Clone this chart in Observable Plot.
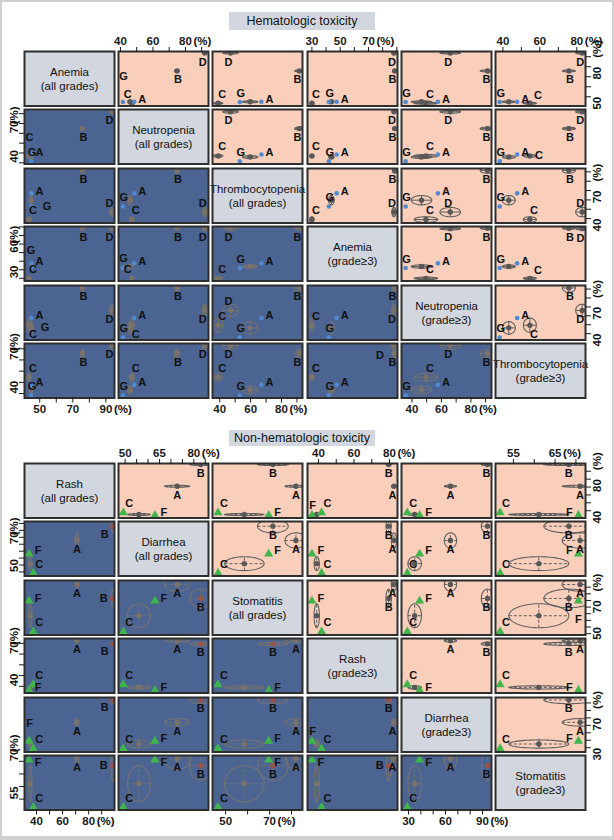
<!DOCTYPE html>
<html>
<head>
<meta charset="utf-8">
<script src="https://cdn.jsdelivr.net/npm/d3@7"></script>
<script src="https://cdn.jsdelivr.net/npm/@observablehq/plot@0.6"></script>
<style>
html,body{margin:0;padding:0;background:#fff;}
#root{position:relative;width:614px;height:840px;overflow:hidden;background:#fff;font-family:"Liberation Sans",Arial,Helvetica,sans-serif;}
.panel{position:absolute;line-height:0;}
.hdr{position:absolute;left:229px;width:146px;background:#d2d7df;color:#111;font-size:12.5px;text-align:center;white-space:nowrap;overflow:visible;}
.edge{position:absolute;left:0;top:0;width:614px;height:840px;box-sizing:border-box;border:2px solid #d0d0d0;border-bottom-width:4px;pointer-events:none;}
</style>
</head>
<body>
<div id="root">
  <div class="hdr" style="top:12px;height:18px;line-height:18px;">Hematologic toxicity</div>
  <div class="hdr" style="top:430px;height:16px;line-height:16px;">Non-hematologic toxicity</div>
</div>
<script>
// ================= DATA: hematologic toxicity (top matrix) =================
const hemaVariables = [["Anemia","(all grades)"],["Neutropenia","(all grades)"],["Thrombocytopenia","(all grades)"],
                       ["Anemia","(grade\u22653)"],["Neutropenia","(grade\u22653)"],["Thrombocytopenia","(grade\u22653)"]];
const hemaStudies = ["A","B","C","D","E","G"];
const hemaObserved = ["A","G"];
const hemaUnlabelled = ["E"];
// incidence (%) per variable, order as hemaVariables
const hemaA = [45.0, 48.5, 67.0, 47.5, 57.6, 47.7];
const hemaB = [75.8, 74.8, 91.5, 88.5, 91.3, 75.7];
const hemaC = [43.5, 47.0, 39.0, 30.0, 49.5, 54.6];
const hemaD = [93.6, 91.9, 47.0, 88.0, 66.0, 82.9];
const hemaE = [45.0, 45.9, 59.7, 43.8, 46.5, 43.2];
const hemaG = [44.8, 41.5, 53.0, 42.0, 35.7, 38.3];
// uncertainty (%) of estimated values
const hemaSdA = [0, 0, 0, 0, 0, 0];
const hemaSdB = [1, 1.5, 3, 1.5, 5, 3.5];
const hemaSdC = [1, 1.5, 3, 1.5, 8, 3.5];
const hemaSdD = [1, 1.5, 5, 1.5, 7, 3.5];
const hemaSdE = [1, 1.5, 5, 2, 7, 3.5];
const hemaSdG = [0, 0, 0, 0, 0, 0];
const hemaDomains = [[40.8,95.2],[38.8,94.2],[35.3,93.6],[26.9,90.5],[32.9,94.0],[36.0,84.7]];
const hemaXTicks = [[50,60,70,80,90],[40,50,60,70,80,90],[40,50,60,70,80,90],[30,40,50,60,70,80,90],[40,50,60,70,80,90],[40,50,60,70,80]];
const hemaXTickLabels = [[50,70,90],[40,60,80],[40,60,80],[30,50,70],[40,60,80],[40,60,80]];
const hemaYTicks = [[50,60,70,80,90],[40,50,60,70,80,90],[40,50,60,70,80,90],[30,40,50,60,70,80,90],[40,50,60,70,80,90],[40,50,60,70,80]];
const hemaYTickLabels = [[50,80],[40,70],[40,70],[30,60],[40,70],[40,70]];

// ================= DATA: non-hematologic toxicity (bottom matrix) =================
const nonhemaVariables = [["Rash","(all grades)"],["Diarrhea","(all grades)"],["Stomatitis","(all grades)"],
                          ["Rash","(grade\u22653)"],["Diarrhea","(grade\u22653)"],["Stomatitis","(grade\u22653)"]];
const nonhemaStudies = ["A","B","C","E","F"];
const nonhemaObserved = ["C","F"];
const nonhemaUnlabelled = ["E"];
const nonhemaA = [71.0, 72.7, 82.0, 82.5, 64.0, 71.0];
const nonhemaB = [98.5, 83.0, 71.5, 79.5, 94.0, 68.3];
const nonhemaC = [37.5, 49.2, 46.5, 41.7, 29.0, 51.8];
const nonhemaE = [35.2, 56.0, 58.5, 39.0, 35.0, 61.1];
const nonhemaF = [34.3, 63.0, 69.6, 36.3, 39.0, 70.6];
const nonhemaSdA = [1.3, 5.5, 5, 1.5, 5, 4.3];
const nonhemaSdB = [1.3, 4.8, 7, 1.5, 5, 6];
const nonhemaSdC = [0, 0, 0, 0, 0, 0];
const nonhemaSdE = [1.3, 5, 9, 1.5, 5.5, 7.2];
const nonhemaSdF = [0, 0, 0, 0, 0, 0];
const nonhemaDomains = [[30.8,99.8],[47.1,86.4],[44.0,85.0],[33.8,84.5],[24.3,97.3],[50.7,72.3]];
const nonhemaXTicks = [[40,50,60,70,80,90],[50,55,60,65,70,75,80,85],[50,60,70,80],[40,50,60,70,80],[30,40,50,60,70,80,90],[55,60,65,70]];
const nonhemaXTickLabels = [[40,60,80],[50,65,80],[50,70],[40,60,80],[30,60,90],[55,65]];
const nonhemaYTicks = [[40,50,60,70,80,90],[50,55,60,65,70,75,80,85],[45,50,55,60,65,70,75,80],[40,50,60,70,80],[30,40,50,60,70,80,90],[55,60,65,70]];
const nonhemaYTickLabels = [[40,80],[50,70],[50,70],[40,70],[30,70],[55,70]];

// ================= LAYOUT / STYLE =================
const W = 90, H = 54.5, PX = 94.2, PY = 58.5, X0 = 24;
const PEACH = "#f9cfbb", NAVY = "#4b6492", DIAG = "#d2d6de", BORDER = "#2e2e2e";
const BLUE = "#4f8ad2", GREEN = "#3fb54b", RED = "#9a5247";
const FONT = '"Liberation Sans", Arial, Helvetica, sans-serif';
const ALT_OFFSETS = [[0, -10], [0, 10], [9, 0], [-9, 0], [8, -8], [8, 8], [-8, -8], [-8, 8],
                     [0, -18], [0, 18], [16, 0], [-16, 0], [14, -10], [14, 10], [-14, -10], [-14, 10],
                     [20, 0], [-20, 0], [8, -18], [8, 18], [0, -26], [0, 26]];

function ellipsePoints(d) {
  const pts = [];
  for (let k = 0; k <= 64; k++) {
    const t = 2 * Math.PI * k / 64;
    pts.push({id: d.id, x: d.x + d.sx * Math.cos(t), y: d.y + d.sy * Math.sin(t)});
  }
  return pts;
}

// place point labels near their points, avoiding each other and the panel edge
function placeLabels(pts, offsets, xd, yd) {
  const kx = W / (xd[1] - xd[0]), ky = H / (yd[1] - yd[0]);
  const placed = [];
  return pts.map(d => {
    const px = (d.x - xd[0]) * kx, py = (yd[1] - d.y) * ky;
    const pref = offsets[d.id];
    const cands = [pref, [pref[0], -pref[1]], [-pref[0], pref[1]], [-pref[0], -pref[1]], ...ALT_OFFSETS];
    let best = null;
    for (const [dx, dy] of cands) {
      const lx = Math.max(5, Math.min(W - 5, px + dx)), ly = py + dy;
      if (Math.abs(lx - (px + dx)) > 3) continue;
      if (ly < 6 || ly > H - 5) continue;
      if (placed.some(q => Math.abs(q[0] - lx) < 10.5 && Math.abs(q[1] - ly) < 11)) continue;
      best = [lx, ly];
      break;
    }
    if (!best) best = [Math.max(5, Math.min(W - 5, px + pref[0])), Math.max(6, Math.min(H - 5, py + pref[1]))];
    placed.push(best);
    return {id: d.id, x: xd[0] + best[0] / kx, y: yd[1] - best[1] / ky};
  });
}

function buildMatrix(root, m) {
  for (let r = 0; r < 6; r++) for (let c = 0; c < 6; c++) {
    const left = X0 + c * PX, top = m.top + r * PY;
    const diag = r === c, upper = c > r;
    const axTop = r === 0 && c % 2 === 1, axBottom = r === 5 && c % 2 === 0;
    const axLeft = c === 0 && r % 2 === 1, axRight = c === 5 && r % 2 === 0;
    const mT = axTop ? 28 : 2, mB = axBottom ? 26 : 2, mL = axLeft ? 28 : 2, mR = axRight ? 28 : 2;
    const xd = m.domains[c], yd = m.domains[r];
    const marks = [Plot.frame({fill: diag ? DIAG : upper ? PEACH : NAVY})];
    if (diag) {
      marks.push(Plot.text([m.names[r].join("\n")], {text: d => d, frameAnchor: "middle", fontSize: 11.5, lineHeight: 1.2, fill: "#111"}));
    } else {
      const pts = m.studies.map(s => ({id: s.id, obs: s.obs, lab: s.lab, x: s.vals[c], y: s.vals[r], sx: s.sd[c], sy: s.sd[r]}));
      const est = pts.filter(p => !p.obs), obs = pts.filter(p => p.obs);
      const ellColor = upper ? "#5e5e5e" : "#747270";
      const dotColor = upper ? "#585858" : "#7a716a";
      marks.push(Plot.line(est.flatMap(ellipsePoints), {x: "x", y: "y", z: "id", stroke: ellColor, strokeWidth: 1.1, clip: true}));
      marks.push(Plot.link(est, {x1: d => d.x - d.sx, x2: d => d.x + d.sx, y1: "y", y2: "y", stroke: ellColor, strokeWidth: 1, strokeDasharray: m.dash, clip: true}));
      marks.push(Plot.link(est, {x1: "x", x2: "x", y1: d => d.y - d.sy, y2: d => d.y + d.sy, stroke: ellColor, strokeWidth: 1, strokeDasharray: m.dash, clip: true}));
      const redIds = (!upper && m.redLower) ? m.redLower : [];
      marks.push(Plot.dot(est.filter(p => !redIds.includes(p.id)), {x: "x", y: "y", r: 2.7, fill: dotColor, clip: true}));
      marks.push(Plot.dot(est.filter(p => redIds.includes(p.id)), {x: "x", y: "y", r: 2.7, fill: RED, clip: true}));
      if (m.obsSymbol === "triangle") {
        marks.push(Plot.dot(obs, {x: "x", y: "y", r: 3.4, symbol: "triangle", fill: GREEN, clip: true}));
      } else {
        marks.push(Plot.dot(obs, {x: "x", y: "y", r: 2.3, fill: BLUE, clip: true}));
      }
      const labs = placeLabels(pts.filter(p => p.lab), m.offsets, xd, yd);
      marks.push(Plot.text(labs, {x: "x", y: "y", text: "id", fontSize: 11, fontWeight: "bold", fill: "#111", clip: true}));
    }
    marks.push(Plot.frame({stroke: BORDER, strokeWidth: 2}));
    const lab = (list) => (d => list.includes(d) ? String(d) : "");
    if (axTop) {
      marks.push(Plot.axisX({anchor: "top", ticks: m.xTicks[c], tickSize: 5, tickPadding: 2, tickFormat: lab(m.xLabels[c]), fontSize: 11.5, fontWeight: "bold"}));
      marks.push(Plot.text([m.xLabels[c][m.xLabels[c].length - 1]], {x: d => d, frameAnchor: "top", dy: -7, dx: 8, textAnchor: "start", lineAnchor: "bottom", text: () => "(%)", fontSize: 11.5, fontWeight: "bold", fill: "#111"}));
    }
    if (axBottom) {
      marks.push(Plot.axisX({anchor: "bottom", ticks: m.xTicks[c], tickSize: 5, tickPadding: 2, tickFormat: lab(m.xLabels[c]), fontSize: 11.5, fontWeight: "bold"}));
      marks.push(Plot.text([m.xLabels[c][m.xLabels[c].length - 1]], {x: d => d, frameAnchor: "bottom", dy: 7, dx: 8, textAnchor: "start", lineAnchor: "top", text: () => "(%)", fontSize: 11.5, fontWeight: "bold", fill: "#111"}));
    }
    if (axLeft) {
      marks.push(Plot.axisY({anchor: "left", ticks: m.yTicks[r], tickSize: 5, tickFormat: () => ""}));
      marks.push(Plot.text(m.yLabels[r], {y: d => d, frameAnchor: "left", dx: -7, rotate: -90, lineAnchor: "bottom", text: d => String(d), fontSize: 11.5, fontWeight: "bold", fill: "#111"}));
      marks.push(Plot.text([m.yLabels[r][m.yLabels[r].length - 1]], {y: d => d, frameAnchor: "left", dx: -7, dy: -9, rotate: -90, textAnchor: "start", lineAnchor: "bottom", text: () => "(%)", fontSize: 11.5, fontWeight: "bold", fill: "#111"}));
    }
    if (axRight) {
      marks.push(Plot.axisY({anchor: "right", ticks: m.yTicks[r], tickSize: 5, tickFormat: () => ""}));
      marks.push(Plot.text(m.yLabels[r], {y: d => d, frameAnchor: "right", dx: 7, rotate: -90, lineAnchor: "top", text: d => String(d), fontSize: 11.5, fontWeight: "bold", fill: "#111"}));
      marks.push(Plot.text([m.yLabels[r][m.yLabels[r].length - 1]], {y: d => d, frameAnchor: "right", dx: 7, dy: -9, rotate: -90, textAnchor: "start", lineAnchor: "top", text: () => "(%)", fontSize: 11.5, fontWeight: "bold", fill: "#111"}));
    }
    const xOpt = {domain: xd, label: null}, yOpt = {domain: yd, label: null};
    if (!(axTop || axBottom)) xOpt.axis = null;
    if (!(axLeft || axRight)) yOpt.axis = null;
    const svg = Plot.plot({
      width: W + mL + mR, height: H + mT + mB,
      marginTop: mT, marginBottom: mB, marginLeft: mL, marginRight: mR,
      x: xOpt, y: yOpt,
      style: {fontFamily: FONT, fontSize: "11.5px", color: "#1a1a1a", background: "transparent", overflow: "visible"},
      marks
    });
    const div = document.createElement("div");
    div.className = "panel";
    div.style.left = (left - mL) + "px";
    div.style.top = (top - mT) + "px";
    div.appendChild(svg);
    root.appendChild(div);
  }
}

function makeStudies(ids, valsList, sdList, observed, unlabelled) {
  return ids.map((id, i) => ({id, vals: valsList[i], sd: sdList[i], obs: observed.includes(id), lab: !unlabelled.includes(id)}));
}

const root = document.getElementById("root");
buildMatrix(root, {
  top: 50.7,
  names: hemaVariables,
  domains: hemaDomains,
  xTicks: hemaXTicks, xLabels: hemaXTickLabels, yTicks: hemaYTicks, yLabels: hemaYTickLabels,
  studies: makeStudies(hemaStudies, [hemaA, hemaB, hemaC, hemaD, hemaE, hemaG],
                       [hemaSdA, hemaSdB, hemaSdC, hemaSdD, hemaSdE, hemaSdG], hemaObserved, hemaUnlabelled),
  obsSymbol: "dot",
  dash: null,
  offsets: {A: [8, -2], B: [1, 9], C: [4, -9], D: [-2, 9], G: [1, -9]}
});
buildMatrix(root, {
  top: 462.7,
  names: nonhemaVariables,
  domains: nonhemaDomains,
  xTicks: nonhemaXTicks, xLabels: nonhemaXTickLabels, yTicks: nonhemaYTicks, yLabels: nonhemaYTickLabels,
  studies: makeStudies(nonhemaStudies, [nonhemaA, nonhemaB, nonhemaC, nonhemaE, nonhemaF],
                       [nonhemaSdA, nonhemaSdB, nonhemaSdC, nonhemaSdE, nonhemaSdF], nonhemaObserved, nonhemaUnlabelled),
  obsSymbol: "triangle",
  dash: "3,2",
  redLower: ["B"],
  offsets: {A: [0, 9], B: [0, 9], C: [6, -9], F: [9, -3]}
});
const edge = document.createElement("div");
edge.className = "edge";
root.appendChild(edge);
</script>
</body>
</html>
